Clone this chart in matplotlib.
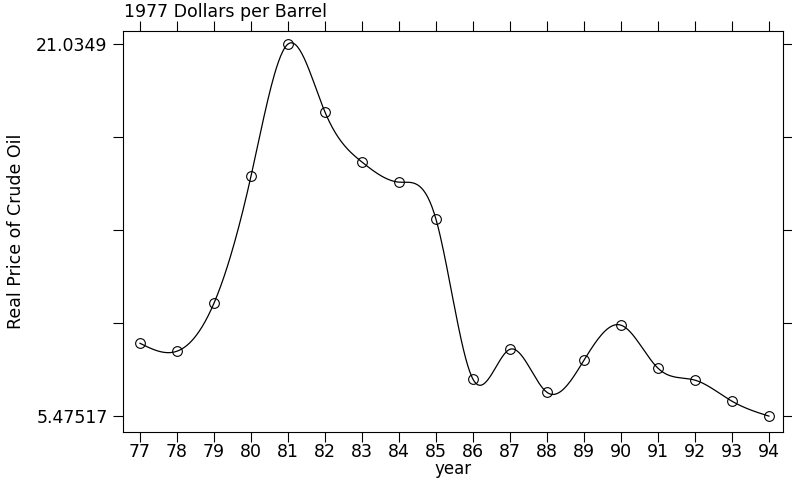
import numpy as np
import matplotlib
matplotlib.use("Agg")
import matplotlib.pyplot as plt

plt.rcParams['font.family'] = ['DejaVu Sans']

years = [77, 78, 79, 80, 81, 82, 83, 84, 85, 86, 87, 88, 89, 90, 91, 92, 93, 94]
price = [8.52, 8.19, 10.20, 15.51, 21.0349, 18.19, 16.10, 15.26, 13.71,
         7.02, 8.27, 6.47, 7.81, 9.28, 7.48, 6.98, 6.10, 5.47517]
y_top = 21.0349
y_bot = 5.47517


def natural_spline(x, y, xs):
    x = np.asarray(x, float)
    y = np.asarray(y, float)
    n = len(x)
    h = np.diff(x)
    A = np.zeros((n, n))
    b = np.zeros(n)
    A[0, 0] = 1
    A[-1, -1] = 1
    for i in range(1, n - 1):
        A[i, i - 1] = h[i - 1]
        A[i, i] = 2 * (h[i - 1] + h[i])
        A[i, i + 1] = h[i]
        b[i] = 6 * ((y[i + 1] - y[i]) / h[i] - (y[i] - y[i - 1]) / h[i - 1])
    M = np.linalg.solve(A, b)
    idx = np.clip(np.searchsorted(x, xs) - 1, 0, n - 2)
    x0, x1 = x[idx], x[idx + 1]
    hh = x1 - x0
    t0 = x1 - xs
    t1 = xs - x0
    return (M[idx] * t0 ** 3 / (6 * hh) + M[idx + 1] * t1 ** 3 / (6 * hh)
            + (y[idx] / hh - M[idx] * hh / 6) * t0
            + (y[idx + 1] / hh - M[idx + 1] * hh / 6) * t1)


fig = plt.figure(figsize=(7.92, 4.78), dpi=100)
ax = fig.add_axes([0.1553, 0.0962, 0.8333, 0.8389])

xs = np.linspace(years[0], years[-1], 600)
ax.plot(xs, natural_spline(years, price, xs), color='black', lw=0.9)
ax.plot(years, price, 'o', mfc='none', mec='black', ms=7, mew=0.8)

ax.set_xlim(76.54, 94.38)
ax.set_ylim(4.81, 21.58)
ax.set_xticks(years)
ax.set_xticklabels([str(v) for v in years], fontsize=12.5)
yt = np.linspace(y_bot, y_top, 5)
ax.set_yticks(yt)
ax.set_yticklabels(['5.47517', '', '', '', '21.0349'], fontsize=12.5)
ax.tick_params(direction='out', length=7, width=0.8, pad=4,
               top=True, right=True, labeltop=False, labelright=False)
ax.tick_params(axis='x', pad=1)
for s in ax.spines.values():
    s.set_linewidth(0.8)

ax.set_ylabel('Real Price of Crude Oil', fontsize=12.5, labelpad=8)
fig.text(0.572, 0.009, 'year', fontsize=12, ha='center', va='baseline')
fig.text(0.157, 0.9644, '1977 Dollars per Barrel', fontsize=12.5, va='baseline', ha='left')

fig.savefig('out.png', dpi=100)
